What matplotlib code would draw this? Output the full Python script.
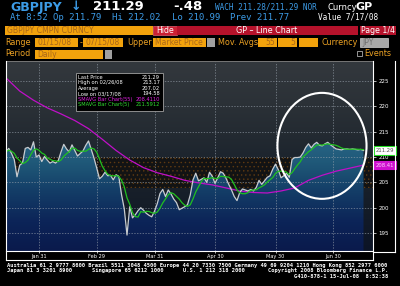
import numpy as np
import pandas as pd
import matplotlib
matplotlib.use("Agg")
import matplotlib.pyplot as plt
from matplotlib.patches import Rectangle, Ellipse
from matplotlib.colors import LinearSegmentedColormap
from matplotlib.lines import Line2D

# GBPJPY daily closes, 01/15/08 .. 07/15/08 (business days)
price = [
    211.0, 211.7, 210.7, 209.5, 206.1, 208.4, 208.8, 211.7, 211.9, 211.4,
    213.0, 210.0, 210.4, 209.1, 210.1, 209.4, 208.8, 209.1, 208.8, 209.3,
    211.0, 212.5, 211.6, 211.0, 212.4, 211.3, 210.2, 210.7, 211.2, 212.3,
    213.17, 211.5, 209.8, 207.8, 205.7, 206.2, 207.0, 206.3, 206.4, 205.5,
    206.5, 206.2, 202.6, 199.8, 194.6, 200.2, 198.0, 198.6, 199.4, 200.0,
    199.5, 198.9, 198.5, 198.2, 199.3, 200.8, 202.8, 203.6, 202.2, 203.5,
    202.7, 201.7, 201.0, 199.6, 199.9, 200.2, 200.6, 202.5, 205.5, 206.8,
    205.3, 205.6, 205.9, 205.0, 207.0, 206.2, 204.8, 205.9, 207.1, 206.8,
    205.8, 204.6, 203.5, 202.2, 201.4, 203.0, 203.7, 203.5, 203.3, 203.6,
    203.3, 204.0, 205.4, 204.6, 205.3, 206.0, 206.3, 207.6, 208.6, 207.5,
    205.9, 206.3, 206.8, 206.0, 209.5, 209.9, 209.9, 210.0, 210.8, 211.9,
    212.6, 211.8, 212.5, 212.9, 212.3, 212.2, 212.6, 212.9, 212.4, 212.0,
    211.6, 211.5, 211.4, 211.6, 211.6, 211.5, 211.6, 211.5, 211.4, 211.5,
    211.29,
]
# 55-day moving average, read every 5 business days
ma55_days = list(range(0, 131, 5))
ma55 = [
    225.6, 223.0, 221.2, 219.7, 218.5, 217.2, 215.6, 213.5, 211.3, 209.4,
    207.9, 206.9, 206.2, 205.4, 204.9, 204.5, 203.9, 203.3, 203.0, 202.9,
    203.3, 203.9, 205.4, 206.4, 207.2, 207.8, 208.41,
]
tick_days = [12, 33, 54, 76, 98, 119]
tick_labels = ["Jan 31", "Feb 29", "Mar 31", "Apr 30", "May 30", "Jun 30"]
y_ticks = [195, 200, 205, 210, 215, 220, 225]

legend_rows = [
    ("Last Price", "211.29", "white"),
    ("High on 02/26/08", "213.17", "white"),
    ("Average", "207.02", "white"),
    ("Low on 03/17/08", "194.58", "white"),
    ("SMAVG Bar Chart(55)", "208.4110", "#e020e0"),
    ("SMAVG Bar Chart(5)", "211.5912", "#30e030"),
]

days = np.arange(len(price))
ma5 = pd.Series(price).rolling(5, min_periods=1).mean()

W, H = 400, 286
fig = plt.figure(figsize=(4, 2.86), dpi=100)
fig.patch.set_facecolor("black")


def box(x0, y0, x1, y1, fc, ec=None, lw=0.0):
    fig.add_artist(Rectangle((x0 / W, 1 - y1 / H), (x1 - x0) / W, (y1 - y0) / H,
                             transform=fig.transFigure, fc=fc,
                             ec=ec if ec else fc, lw=lw))


def txt(x, y, s, size=6.0, color="white", ha="left", **kw):
    fig.text(x / W, 1 - y / H, s, fontsize=size, color=color, ha=ha,
             va="center", **kw)


def line(x0, y0, x1, y1, color="white", lw=0.8):
    fig.add_artist(Line2D([x0 / W, x1 / W], [1 - y0 / H, 1 - y1 / H],
                          transform=fig.transFigure, color=color, lw=lw))


BLUE = "#3c9be6"
ORANGE = "#f2a20c"
LABEL = "#eca224"
BOXTXT = "#a8661a"
RED = "#b5122b"

# -- header lines --
txt(10, 7, "GBPJPY", 9.0, BLUE, fontweight="bold")
txt(71, 7, "\u2193", 9, BLUE, fontweight="bold")
txt(93, 7, "211.29", 9.5, "white", fontweight="bold")
txt(173, 7, "-.48", 9.5, "white", fontweight="bold")
txt(215, 7, "WACH 211.28/211.29 NOR", 5.6, BLUE, family="DejaVu Sans Mono")
txt(327, 7, "Curncy", 6.0, "white")
txt(355, 6.5, "GP", 8, "white", fontweight="bold")

mono2 = dict(family="DejaVu Sans Mono")
txt(10, 17.5, "At 8:52 Op 211.79", 6.5, BLUE, **mono2)
txt(112, 17.5, "Hi 212.02", 6.5, BLUE, **mono2)
txt(172, 17.5, "Lo 210.99", 6.5, BLUE, **mono2)
txt(230, 17.5, "Prev 211.77", 6.5, BLUE, **mono2)
txt(318, 17.5, "Value 7/17/08", 5.6, "white", **mono2)

# -- control rows --
box(5, 26, 153, 35, ORANGE)
txt(7, 30.5, "GBPJPY CMPN CURNCY", 5.6, BOXTXT)
box(153, 26, 177, 35, "#cc2034", ec="#e06070", lw=0.5)
txt(165, 30.5, "Hide", 5.6, "white", ha="center")
box(177, 26, 358, 35, RED)
txt(267, 30.5, "GP \u2013 Line Chart", 5.8, "white", ha="center")
box(360, 26, 396, 35, RED)
txt(378, 30.5, "Page 1/4", 5.6, "white", ha="center")

txt(5, 42.5, "Range", 5.8, LABEL)
box(35, 38, 78, 47, ORANGE)
txt(37, 42.5, "01/15/08", 5.5, BOXTXT)
txt(80, 42.5, "-", 5.8, LABEL)
box(83, 38, 123, 47, ORANGE)
txt(85, 42.5, "07/15/08", 5.5, BOXTXT)
txt(127, 42.5, "Upper", 5.8, LABEL)
box(153, 38, 206, 47, ORANGE)
txt(155, 42.5, "Market Price", 5.5, BOXTXT)
box(207, 38, 215, 47, "#a0a0a0")
txt(218, 42.5, "Mov. Avgs", 5.8, LABEL)
box(258, 38, 277, 47, ORANGE)
txt(275, 42.5, "55", 5.5, BOXTXT, ha="right")
box(278, 38, 297, 47, ORANGE)
txt(295, 42.5, "5", 5.5, BOXTXT, ha="right")
box(299, 38, 318, 47, ORANGE)
txt(322, 42.5, "Currency", 5.8, LABEL)
box(360, 38, 388, 47, "#a8a8a8", ec="#d0d0d0", lw=0.5)
txt(362, 42.5, "JPY", 5.5, "#707070")

txt(5, 54, "Period", 5.8, LABEL)
box(35, 50, 103, 59, ORANGE)
txt(37, 54.5, "Daily", 5.5, BOXTXT)
box(105, 50, 112, 59, "#a0a0a0")
box(357, 51.5, 362, 56.5, "black", ec="#d0d0d0", lw=0.5)
txt(364, 54, "Events", 5.8, LABEL)

# -- chart --
ax = fig.add_axes([6 / W, 1 - 251 / H, 367 / W, 189 / H])
ymin, ymax = 191.46, 228.74
xmin, xmax = 0, 133.45
ax.set_xlim(xmin, xmax)
ax.set_ylim(ymin, ymax)
ax.set_facecolor("#101418")

bg_cmap = LinearSegmentedColormap.from_list(
    "bg", ["#0c1426", "#151d28", "#1d252e", "#2a3036", "#33383d"])
grad = np.linspace(0, 1, 256).reshape(-1, 1)
ax.imshow(grad, cmap=bg_cmap, extent=[xmin, xmax, ymin, ymax],
          aspect="auto", origin="lower", zorder=0)

plt.rcParams["hatch.linewidth"] = 0.5
ax.axhspan(203.9, 210.0, xmin=0, xmax=1, facecolor="#121314",
           edgecolor="#5e3a12", hatch="....", lw=0, zorder=0.5)

fill_cmap = LinearSegmentedColormap.from_list(
    "fill", ["#0a1a4c", "#0c2458", "#133c66", "#1f5878", "#2a6888"])
poly = ax.fill_between(days, price, ymin, facecolor="none", lw=0, zorder=1)
im = ax.imshow(grad, cmap=fill_cmap, extent=[0, days[-1], ymin, 214.5],
               aspect="auto", origin="lower", zorder=1)
im.set_clip_path(poly.get_paths()[0], transform=ax.transData)

ax.set_xticks(tick_days)
ax.set_xticklabels(tick_labels)
ax.set_yticks(y_ticks)
ax.yaxis.tick_right()
ax.grid(True, color="#9aa4ae", lw=0.5, ls=(0, (2, 2)), alpha=0.8)
ax.set_axisbelow(False)
for s in ax.spines.values():
    s.set_visible(False)
ax.tick_params(axis="x", colors="white", length=1.5, width=0.5,
               labelsize=3.6, pad=1)
ax.tick_params(axis="y", colors="white", length=2, width=0.5,
               labelsize=4, pad=2)

ax.plot(ma55_days, ma55, color="#c010c8", lw=0.9, zorder=3)
ax.plot(days, price, color="#c8ccd0", lw=0.9, zorder=4)
ax.plot(days, ma5, color="#20c020", lw=0.9, zorder=5)

ax.add_patch(Ellipse((114.9, 212.2), 32.4, 20.9, fill=False, ec="white",
                     lw=1.5, zorder=10, clip_on=False))

ytr = ax.get_yaxis_transform()
ax.text(1.007, 211.29, "211.29", transform=ytr, fontsize=3.8, color="#505050",
        va="center", ha="left", clip_on=False, zorder=20,
        bbox=dict(boxstyle="square,pad=0.3", fc="white", ec="#22dd22", lw=0.8))
ax.text(1.007, 208.41, "208.41", transform=ytr, fontsize=3.8, color="#ffd0ff",
        va="center", ha="left", clip_on=False, zorder=20,
        bbox=dict(boxstyle="square,pad=0.3", fc="#d010d0", ec="#d010d0", lw=0.8))

# frame
line(6, 61, 373, 61, "#8a8a8a", 0.6)
line(6, 61, 6, 260)
line(6, 260, 373, 260)
line(373, 61, 373, 260)
line(6, 251, 373, 251)
line(395, 61, 395, 252)
line(373, 252, 395, 252)

# in-chart legend
box(76, 73, 163, 111, "black", ec="#a0a0a0", lw=0.6)
for i, (lab, val, col) in enumerate(legend_rows):
    yy = 77.5 + i * 5.4
    txt(78, yy, lab, 3.7, col)
    txt(160, yy, val, 3.7, col, ha="right")

# footer
fmono = dict(family="DejaVu Sans Mono", fontweight="bold")
txt(7, 265, "Australia 61 2 9777 8600 Brazil 5511 3048 4500 Europe 44 20 7330 7500 "
    "Germany 49 69 9204 1210 Hong Kong 852 2977 6000", 3.85, "white", **fmono)
txt(7, 270.5, "Japan 81 3 3201 8900", 3.85, "white", **fmono)
txt(92, 270.5, "Singapore 65 6212 1000", 3.85, "white", **fmono)
txt(183, 270.5, "U.S. 1 212 318 2000", 3.85, "white", **fmono)
txt(388, 270.5, "Copyright 2008 Bloomberg Finance L.P.", 3.85, "white",
    ha="right", **fmono)
txt(388, 276, "G410-878-1 15-Jul-08  8:52:38", 3.85, "white", ha="right", **fmono)

fig.savefig("out.png", dpi=100, facecolor=fig.get_facecolor())
